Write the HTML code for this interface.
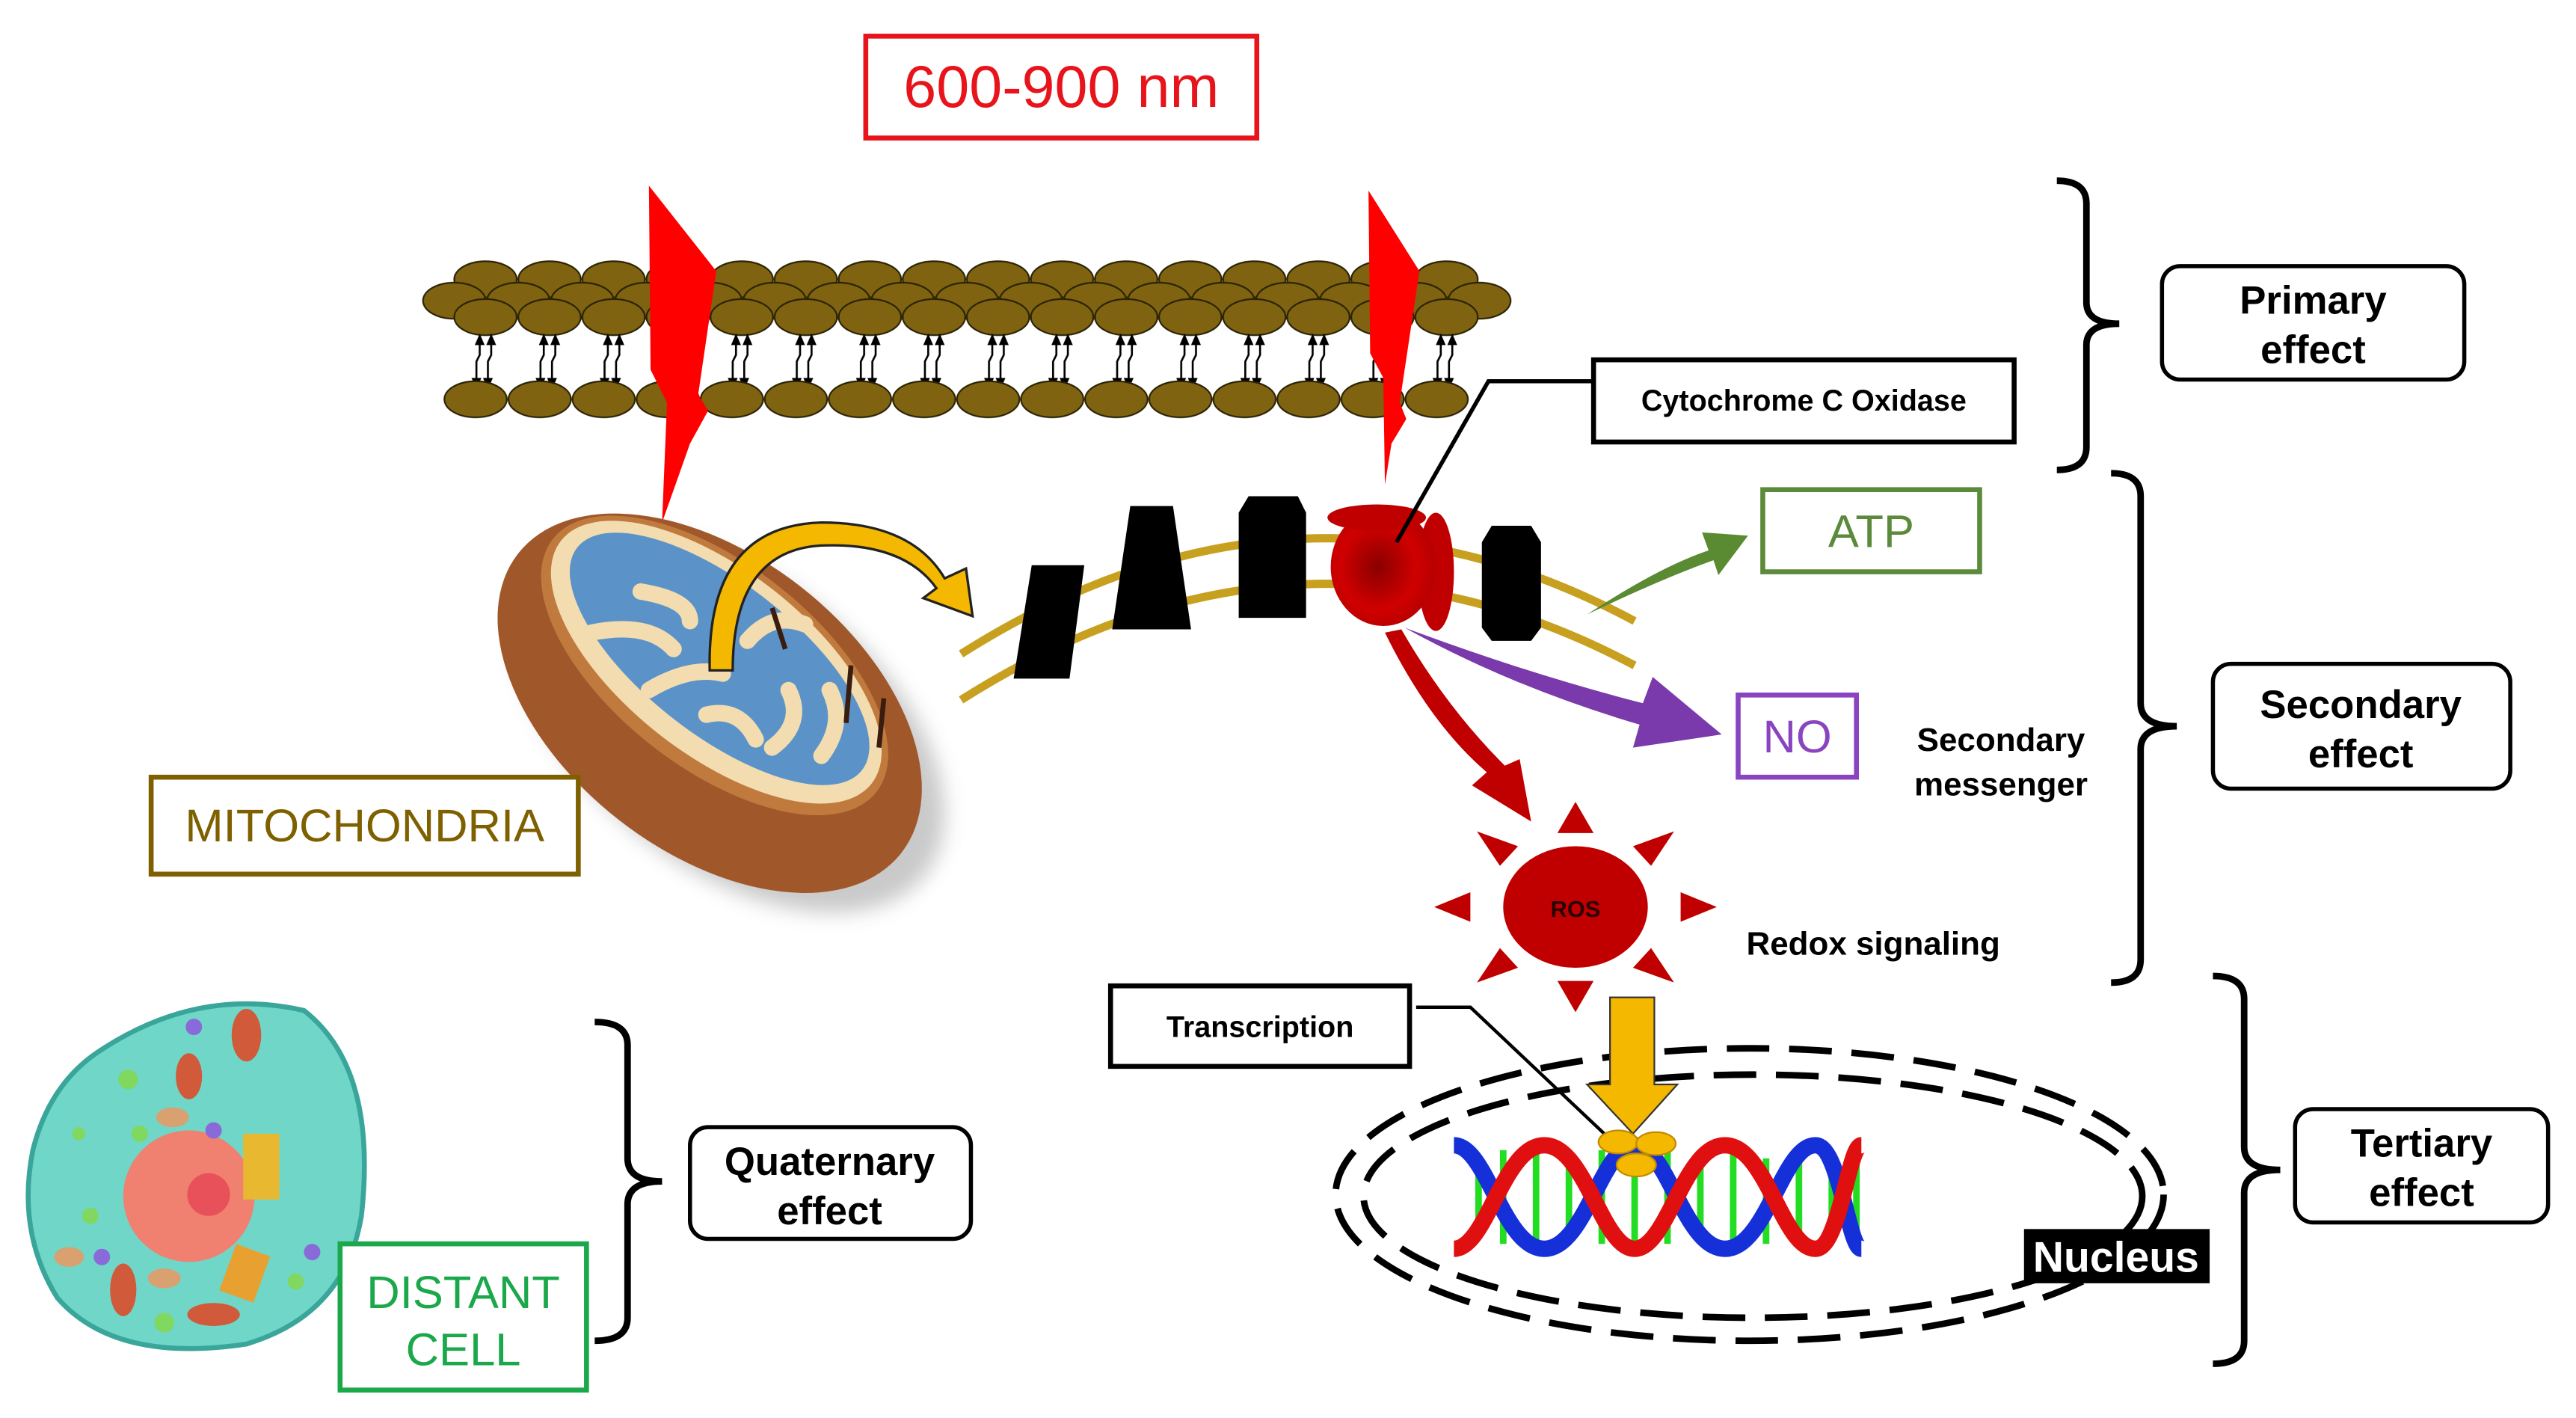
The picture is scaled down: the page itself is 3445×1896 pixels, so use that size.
<!DOCTYPE html>
<html><head><meta charset="utf-8"><style>
html,body{margin:0;padding:0;background:#fff;}
svg{display:block;}
text{font-family:"Liberation Sans",Arial,sans-serif;}
</style></head><body>
<svg width="3445" height="1896" viewBox="0 0 1568 863" preserveAspectRatio="none" xmlns="http://www.w3.org/2000/svg">
<defs>
<pattern id="head" x="0" y="0" width="39" height="24" patternUnits="userSpaceOnUse">
<ellipse cx="19.5" cy="12" rx="19" ry="11" fill="#7f6311" stroke="#2a2205" stroke-width="1"/>
</pattern>
<pattern id="tail" x="0" y="0" width="39" height="40" patternUnits="userSpaceOnUse">
<g stroke="#000" stroke-width="1.2" fill="none">
<path d="M16 4 V14 L14 18 V30"/><path d="M23 4 V14 L21 18 V30"/>
</g>
<g fill="#000"><path d="M13 8 L19 8 L16 1Z"/><path d="M20 8 L26 8 L23 1Z"/>
<path d="M11 28 L17 28 L14 35Z"/><path d="M18 28 L24 28 L21 35Z"/></g>
</pattern>
<radialGradient id="cox" cx="0.45" cy="0.5" r="0.6"><stop offset="0" stop-color="#8a0000"/><stop offset="0.6" stop-color="#d00000"/><stop offset="1" stop-color="#b00000"/></radialGradient>
<filter id="sh" x="-20%" y="-20%" width="150%" height="150%"><feGaussianBlur stdDeviation="6"/></filter>
</defs>

<!-- 600-900 nm -->
<rect x="527" y="22" width="238" height="62" fill="none" stroke="#e8141b" stroke-width="3"/>
<text x="646" y="65" font-size="36" fill="#e8141b" text-anchor="middle">600-900 nm</text>

<!-- membrane -->
<g transform="translate(276,158)"><rect x="0" y="0" width="624" height="24" fill="url(#head)"/></g>
<g transform="translate(257,171)"><rect x="0" y="0" width="663" height="24" fill="url(#head)"/></g>
<g transform="translate(276,181)"><rect x="0" y="0" width="624" height="24" fill="url(#head)"/></g>
<g transform="translate(276,202)"><rect x="0" y="0" width="624" height="36" fill="url(#tail)"/></g>
<g transform="translate(270,231)"><rect x="0" y="0" width="624" height="24" fill="url(#head)"/></g>

<!-- lightning -->
<polygon points="395,113 436,165 425,240 431,250 420,270 403,318 406,245 396,225" fill="#ff0000"/>
<polygon points="833,116 864,165 852,245 856,255 847,270 843,295 842,230 834,215" fill="#ff0000"/>

<!-- mitochondria -->
<ellipse cx="445" cy="440" rx="150" ry="88" transform="rotate(38 445 440)" fill="#888" opacity="0.45" filter="url(#sh)"/>
<ellipse cx="432" cy="428" rx="148" ry="90" transform="rotate(38 432 428)" fill="#a0582a"/>
<ellipse cx="435" cy="405" rx="125" ry="62" transform="rotate(38 435 405)" fill="#c17a3e"/>
<ellipse cx="436" cy="403" rx="120" ry="56" transform="rotate(38 436 403)" fill="#f2dcb0"/>
<ellipse cx="438" cy="401" rx="110" ry="46" transform="rotate(38 438 401)" fill="#5b93c9"/>
<g stroke="#f2dcb0" stroke-width="10" stroke-linecap="round" fill="none">
<path d="M360,385 Q395,378 410,395"/><path d="M390,360 Q420,365 420,378"/>
<path d="M395,420 Q420,405 440,410"/><path d="M455,390 Q470,372 490,380"/>
<path d="M480,420 Q490,440 470,455"/><path d="M505,420 Q515,440 500,460"/>
<path d="M430,435 Q450,430 460,450"/>
</g>
<g stroke="#3a1d0e" stroke-width="3" fill="none"><path d="M470,370 L478,395"/><path d="M518,405 L515,440"/><path d="M538,425 L535,455"/></g>

<!-- yellow curved arrow -->
<path d="M432,408 Q430,320 500,318 Q555,318 575,352 L588,346 L592,375 L562,364 L570,358 Q550,330 500,332 Q446,335 446,408 Z" fill="#f5b800" stroke="#222" stroke-width="1.5"/>

<!-- inner membrane -->
<path d="M585,398 Q790,268 995,378" stroke="#c8a020" stroke-width="5" fill="none"/>
<path d="M585,426 Q790,296 995,405" stroke="#c8a020" stroke-width="5" fill="none"/>

<!-- complexes -->
<polygon points="628,344 660,344 651,413 617,413" fill="#000"/>
<polygon points="688,308 714,308 725,383 677,383" fill="#000"/>
<polygon points="760,302 790,302 795,312 795,376 754,376 754,312" fill="#000"/>
<polygon points="908,320 932,320 938,330 938,382 932,390 908,390 902,382 902,330" fill="#000"/>

<!-- COX -->
<ellipse cx="874" cy="348" rx="11" ry="36" fill="#c00000"/>
<ellipse cx="842" cy="345" rx="32" ry="36" fill="url(#cox)"/>
<ellipse cx="838" cy="315" rx="30" ry="8" fill="#c00000"/>
<polyline points="850,330 906,232 970,232" fill="none" stroke="#000" stroke-width="2.5"/>
<rect x="970" y="219" width="256" height="50" fill="#fff" stroke="#000" stroke-width="3"/>
<text x="1098" y="250" font-size="18" font-weight="bold" text-anchor="middle">Cytochrome C Oxidase</text>

<!-- ATP arrow -->
<path d="M966,374 Q1010,345 1040,335 L1036,324 L1064,326 L1046,350 L1043,341 Q1012,352 966,374Z" fill="#5a8a32"/>
<rect x="1073" y="298" width="132" height="50" fill="#fff" stroke="#5a8a3a" stroke-width="3"/>
<text x="1139" y="333" font-size="28" fill="#5a8a3a" text-anchor="middle">ATP</text>

<!-- NO arrow -->
<path d="M855,382 Q930,410 1000,428 L1006,412 L1048,447 L994,455 L998,441 Q920,418 855,382Z" fill="#7a3aab"/>
<rect x="1058" y="423" width="72" height="50" fill="#fff" stroke="#8a44c0" stroke-width="3"/>
<text x="1094" y="458" font-size="28" fill="#8a44c0" text-anchor="middle">NO</text>

<!-- red arrow to ROS -->
<path d="M843,385 Q870,440 905,470 L896,478 L932,500 L925,462 L916,466 Q880,430 853,383Z" fill="#c00000"/>

<text x="1218" y="457" font-size="20" font-weight="bold" text-anchor="middle">Secondary</text>
<text x="1218" y="484" font-size="20" font-weight="bold" text-anchor="middle">messenger</text>

<!-- ROS -->
<g fill="#c00000">
<ellipse cx="959" cy="552" rx="44" ry="37"/>
<polygon points="959,488 948,507 970,507"/><polygon points="959,616 948,597 970,597"/>
<polygon points="873,552 895,543 895,561"/><polygon points="1045,552 1023,543 1023,561"/>
<polygon points="899,506 913,527 924,515"/><polygon points="1019,506 1005,527 994,515"/>
<polygon points="899,598 913,577 924,589"/><polygon points="1019,598 1005,577 994,589"/>
</g>
<text x="959" y="558" font-size="14" font-weight="bold" text-anchor="middle" fill="#2a0000">ROS</text>
<text x="1063" y="581" font-size="20" font-weight="bold">Redox signaling</text>

<!-- nucleus -->
<ellipse cx="1065" cy="727" rx="252" ry="89" fill="none" stroke="#000" stroke-width="4" stroke-dasharray="26,12"/>
<ellipse cx="1067" cy="728" rx="237" ry="74" fill="none" stroke="#000" stroke-width="4" stroke-dasharray="26,12"/>

<!-- DNA -->
<g stroke="#22dd22" stroke-width="4">
<line x1="900" y1="705" x2="900" y2="752"/><line x1="915" y1="700" x2="915" y2="757"/><line x1="935" y1="700" x2="935" y2="757"/>
<line x1="955" y1="710" x2="955" y2="752"/><line x1="975" y1="700" x2="975" y2="757"/><line x1="995" y1="705" x2="995" y2="757"/>
<line x1="1015" y1="700" x2="1015" y2="757"/><line x1="1035" y1="705" x2="1035" y2="752"/><line x1="1055" y1="700" x2="1055" y2="757"/>
<line x1="1075" y1="705" x2="1075" y2="757"/><line x1="1095" y1="700" x2="1095" y2="757"/><line x1="1115" y1="705" x2="1115" y2="752"/><line x1="1130" y1="698" x2="1130" y2="760"/>
</g>
<g fill="none" stroke-width="10" stroke-linecap="butt">
<path d="M885,697 C905,697 915,760 940,760 C965,760 975,697 995,697 C1015,697 1025,760 1050,760 C1075,760 1085,697 1105,697 C1120,697 1125,760 1133,760" stroke="#1530d8"/>
<path d="M885,760 C905,760 915,697 940,697 C965,697 975,760 995,760 C1015,760 1025,697 1050,697 C1075,697 1085,760 1105,760 C1120,760 1125,697 1133,697" stroke="#e01010"/>
</g>

<!-- transcription -->
<polyline points="862,613 895,613 985,698" fill="none" stroke="#000" stroke-width="2"/>
<rect x="676" y="600" width="182" height="49" fill="#fff" stroke="#000" stroke-width="3"/>
<text x="767" y="631" font-size="18" font-weight="bold" text-anchor="middle">Transcription</text>

<!-- yellow down arrow -->
<polygon points="980,607 1007,607 1007,660 1021,660 994,690 966,660 980,660" fill="#f5b800" stroke="#333" stroke-width="1"/>
<g fill="#f5b800" stroke="#c08a00" stroke-width="1"><ellipse cx="985" cy="695" rx="12" ry="7"/><ellipse cx="1008" cy="696" rx="12" ry="7"/><ellipse cx="996" cy="709" rx="12" ry="7"/></g>

<rect x="1232" y="748" width="113" height="33" fill="#000"/>
<text x="1288" y="774" font-size="26" font-weight="bold" fill="#fff" text-anchor="middle">Nucleus</text>

<!-- mitochondria label -->
<rect x="92" y="473" width="260" height="59" fill="#fff" stroke="#7f6000" stroke-width="3"/>
<text x="222" y="512" font-size="28" fill="#7f6000" text-anchor="middle">MITOCHONDRIA</text>

<!-- cell -->
<path d="M60,640 Q120,600 185,615 Q230,650 220,740 Q210,800 150,818 Q70,830 35,790 Q10,750 20,700 Q30,660 60,640Z" fill="#6fd6c8" stroke="#3aa59a" stroke-width="3"/>
<circle cx="115" cy="728" r="40" fill="#f08070"/>
<circle cx="127" cy="727" r="13" fill="#e8505a"/>
<g fill="#d05a3a"><ellipse cx="150" cy="630" rx="9" ry="16"/><ellipse cx="115" cy="655" rx="8" ry="14"/><ellipse cx="75" cy="785" rx="8" ry="16"/><ellipse cx="130" cy="800" rx="16" ry="7"/></g>
<g fill="#d9a070"><ellipse cx="105" cy="680" rx="10" ry="6"/><ellipse cx="42" cy="765" rx="9" ry="6"/><ellipse cx="100" cy="778" rx="10" ry="6"/></g>
<g fill="#80d860"><circle cx="78" cy="657" r="6"/><circle cx="85" cy="690" r="5"/><circle cx="100" cy="805" r="6"/><circle cx="48" cy="690" r="4"/><circle cx="55" cy="740" r="5"/><circle cx="180" cy="780" r="5"/></g>
<rect x="148" y="690" width="22" height="40" fill="#e8b830"/><rect x="138" y="760" width="22" height="30" fill="#e8a030" transform="rotate(20 149 775)"/>
<g fill="#8a6ad8"><circle cx="118" cy="625" r="5"/><circle cx="130" cy="688" r="5"/><circle cx="62" cy="765" r="5"/><circle cx="190" cy="762" r="5"/></g>
<rect x="207" y="757" width="150" height="89" fill="#fff" stroke="#1aa84a" stroke-width="3"/>
<text x="282" y="796" font-size="28" fill="#1aa84a" text-anchor="middle">DISTANT</text>
<text x="282" y="831" font-size="28" fill="#1aa84a" text-anchor="middle">CELL</text>

<!-- braces -->
<g fill="none" stroke="#000" stroke-width="4">
<path d="M1252,110 Q1270,110 1270,124 L1270,184 Q1270,197 1290,197 Q1270,197 1270,210 L1270,272 Q1270,286 1252,286"/>
<path d="M1285,288 Q1303,288 1303,302 L1303,428 Q1303,442 1325,442 Q1303,442 1303,456 L1303,584 Q1303,598 1285,598"/>
<path d="M1347,594 Q1366,594 1366,608 L1366,698 Q1366,712 1388,712 Q1366,712 1366,726 L1366,816 Q1366,830 1347,830"/>
<path d="M362,622 Q382,622 382,636 L382,705 Q382,719 403,719 Q382,719 382,733 L382,802 Q382,816 362,816"/>
</g>

<!-- effect boxes -->
<g fill="#fff" stroke="#000" stroke-width="2.5">
<rect x="1316" y="162" width="184" height="69" rx="11"/>
<rect x="1347" y="404" width="181" height="76" rx="11"/>
<rect x="1397" y="675" width="154" height="69" rx="11"/>
<rect x="420" y="686" width="171" height="68" rx="11"/>
</g>
<g font-size="24" font-weight="bold" text-anchor="middle">
<text x="1408" y="191">Primary</text><text x="1408" y="221">effect</text>
<text x="1437" y="437">Secondary</text><text x="1437" y="467">effect</text>
<text x="1474" y="704">Tertiary</text><text x="1474" y="734">effect</text>
<text x="505" y="715">Quaternary</text><text x="505" y="745">effect</text>
</g>
</svg>
</body></html>
